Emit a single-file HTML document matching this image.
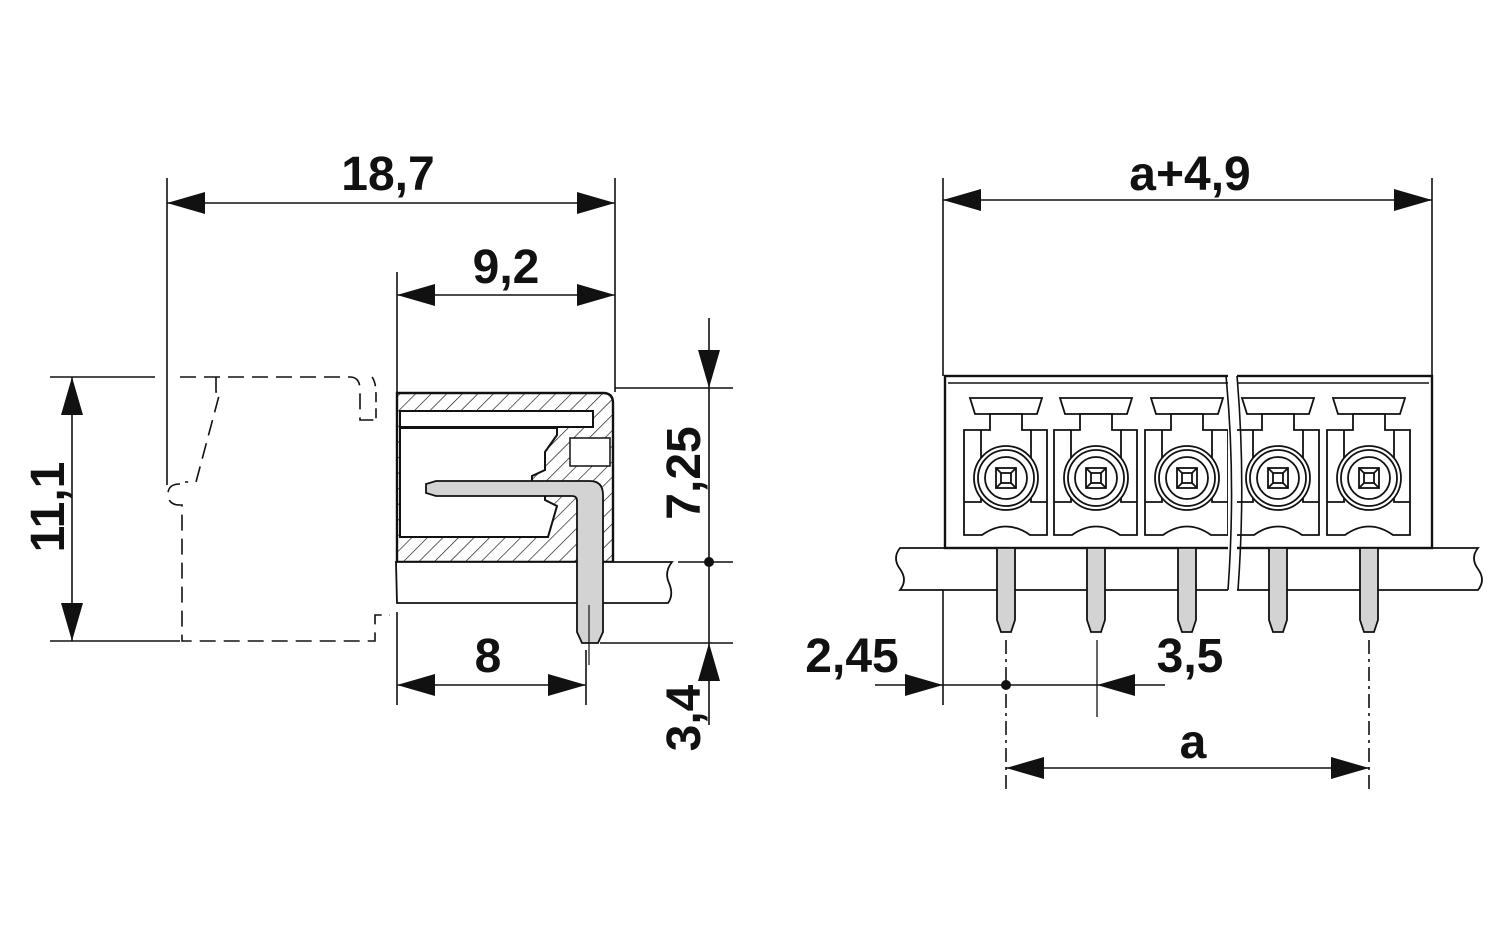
<!DOCTYPE html>
<html><head><meta charset="utf-8"><style>
html,body{margin:0;padding:0;background:#fff;}
svg{display:block;}
text{font-family:"Liberation Sans",Arial,sans-serif;font-weight:bold;font-size:48px;fill:#111;}
</style></head><body>
<svg width="1500" height="937" viewBox="0 0 1500 937" xmlns="http://www.w3.org/2000/svg">
<defs>
<pattern id="h" patternUnits="userSpaceOnUse" width="11" height="11" patternTransform="rotate(45)">
<rect width="11" height="11" fill="#fff"/><line x1="0" y1="0" x2="0" y2="11" stroke="#111" stroke-width="1.3"/>
</pattern>
</defs>
<g stroke="#111" stroke-width="1.6" fill="none">
<!-- LEFT dims -->
<line x1="167" y1="178" x2="167" y2="485"/>
<line x1="615" y1="178" x2="615" y2="392"/>
<line x1="167" y1="203" x2="615" y2="203"/>
<line x1="397" y1="272" x2="397" y2="392"/>
<line x1="397" y1="295" x2="615" y2="295"/>
<line x1="50" y1="377" x2="155" y2="377"/>
<line x1="50" y1="641" x2="180" y2="641"/>
<line x1="72" y1="377" x2="72" y2="641"/>
<line x1="709" y1="318" x2="709" y2="725"/>
<line x1="615" y1="388" x2="733" y2="388"/>
<line x1="678" y1="562" x2="733" y2="562"/>
<line x1="600" y1="643" x2="733" y2="643"/>
<line x1="397" y1="612" x2="397" y2="705"/>
<line x1="586" y1="650" x2="586" y2="705"/>
<line x1="397" y1="685" x2="586" y2="685"/>
<!-- dashed outline -->
<path d="M180 377 H350 Q360 377 360 390 V420 H376" stroke-dasharray="16 8"/>
<path d="M372 377 Q376 382 376 395 V420" stroke-dasharray="10 6"/>
<path d="M216 377 V392 H220 L196 482 H185" stroke-dasharray="16 8"/>
<path d="M180 484 Q168 484 168 494 Q168 505 180 505 H182 V641 H375 V615 H390" stroke-dasharray="16 8"/>
<!-- body -->
<path d="M397 393 H603 Q613 393 613 403 V562 H397 Z" fill="url(#h)" stroke-width="2.4"/>
<rect x="400" y="411" width="193" height="16" fill="#fff" stroke-width="2"/>
<path d="M400 428 H557 V435 L545 452 V470 L532 476 V482 L545 492 V500 L557 506 L548 537 H400 Z" fill="#fff" stroke-width="2"/>
<rect x="570" y="438" width="40" height="28" fill="#fff" stroke-width="1.5"/>
<path d="M396 562 H672 Q664 572 669 583 Q674 595 668 603 H397 Z" fill="#fff" stroke-width="1.8"/>
<!-- pin -->
<path d="M436 481 H590 Q603 481 603 495 V632 L598 643 H582 L577 632 V501 Q577 496 572 496 H436 L426 493 V484 Z" fill="#d3d3d3" stroke-width="1.8"/>
<line x1="589" y1="605" x2="589" y2="665" stroke-width="1.2"/>
<!-- RIGHT dims -->
<line x1="943" y1="178" x2="943" y2="376"/>
<line x1="1432" y1="178" x2="1432" y2="376"/>
<line x1="943" y1="200" x2="1432" y2="200"/>
<line x1="943" y1="590" x2="943" y2="705"/>
<line x1="875" y1="685" x2="1165" y2="685"/>
<line x1="1097" y1="640" x2="1097" y2="717" stroke-width="1.3"/>
<line x1="1006" y1="640" x2="1006" y2="790" stroke-dasharray="14 5 3 5"/>
<line x1="1369" y1="640" x2="1369" y2="790" stroke-dasharray="14 5 3 5"/>
<line x1="1006" y1="768" x2="1369" y2="768"/>
<!-- board right -->
<path d="M900 548 H1478 Q1470 558 1478 569 Q1486 580 1478 590 H900 Q908 580 900 569 Q892 558 900 548 Z" fill="#fff" stroke-width="1.8"/>
<!-- body right -->
<rect x="945" y="376" width="487" height="172" fill="#fff" stroke-width="2.4"/>
<line x1="948" y1="383" x2="1429" y2="383" stroke-width="1.4"/>
</g>
<!-- modules -->
<g stroke="#111" stroke-width="1.8" fill="#fff">
<g id="m">
<path d="M970 398 H1042 L1037 414 H975 Z"/>
<path d="M964 430 H990 V414 H1022 V430 H1047 V535 H1030 Q1006 518 982 535 H964 Z"/>
<path d="M981 430 V462 Q976 478 981 494 V502 H964 M1031 430 V462 Q1036 478 1031 494 V502 H1047" fill="none"/>
<circle cx="1006" cy="478" r="32"/>
<circle cx="1006" cy="478" r="28"/>
<circle cx="1006" cy="478" r="21"/>
<rect x="996" y="468" width="20" height="20"/>
<rect x="1001" y="473" width="10" height="10"/>
<line x1="996" y1="468" x2="1001" y2="473"/><line x1="1016" y1="468" x2="1011" y2="473"/>
<line x1="996" y1="488" x2="1001" y2="483"/><line x1="1016" y1="488" x2="1011" y2="483"/>
<path d="M997 548 H1015 V620 L1011 632 H1001 L997 620 Z" fill="#d3d3d3"/>
</g>
<use href="#m" x="90"/>
<use href="#m" x="181"/>
<use href="#m" x="272"/>
<use href="#m" x="363"/>
</g>
<!-- break line -->
<rect x="1228" y="372" width="9" height="220" fill="#fff"/>
<path d="M1226 376 Q1236 480 1228 590 M1237 376 Q1246 480 1238 590" stroke="#111" stroke-width="1.6" fill="none"/>
<!-- arrows -->
<g fill="#111">
<path d="M167 203 l38 -11 v22 z"/><path d="M615 203 l-38 -11 v22 z"/>
<path d="M397 295 l38 -11 v22 z"/><path d="M615 295 l-38 -11 v22 z"/>
<path d="M72 377 l-11 38 h22 z"/><path d="M72 641 l-11 -38 h22 z"/>
<path d="M709 388 l-11 -38 h22 z"/><path d="M709 643 l-11 38 h22 z"/>
<circle cx="709" cy="562" r="5"/>
<path d="M397 685 l38 -11 v22 z"/><path d="M586 685 l-38 -11 v22 z"/>
<path d="M943 200 l38 -11 v22 z"/><path d="M1432 200 l-38 -11 v22 z"/>
<path d="M943 685 l-38 -11 v22 z"/><path d="M1097 685 l38 -11 v22 z"/>
<circle cx="1006" cy="685" r="5"/>
<path d="M1006 768 l38 -11 v22 z"/><path d="M1369 768 l-38 -11 v22 z"/>
</g>
<!-- labels -->
<text x="388" y="190" text-anchor="middle">18,7</text>
<text x="506" y="283" text-anchor="middle">9,2</text>
<text x="488" y="672" text-anchor="middle">8</text>
<text transform="translate(64,507) rotate(-90)" text-anchor="middle">11,1</text>
<text transform="translate(700,473) rotate(-90)" text-anchor="middle">7,25</text>
<text transform="translate(700,718) rotate(-90)" text-anchor="middle">3,4</text>
<text x="1190" y="190" text-anchor="middle">a+4,9</text>
<text x="852" y="672" text-anchor="middle">2,45</text>
<text x="1190" y="672" text-anchor="middle">3,5</text>
<text x="1193" y="758" text-anchor="middle">a</text>
</svg>
</body></html>
